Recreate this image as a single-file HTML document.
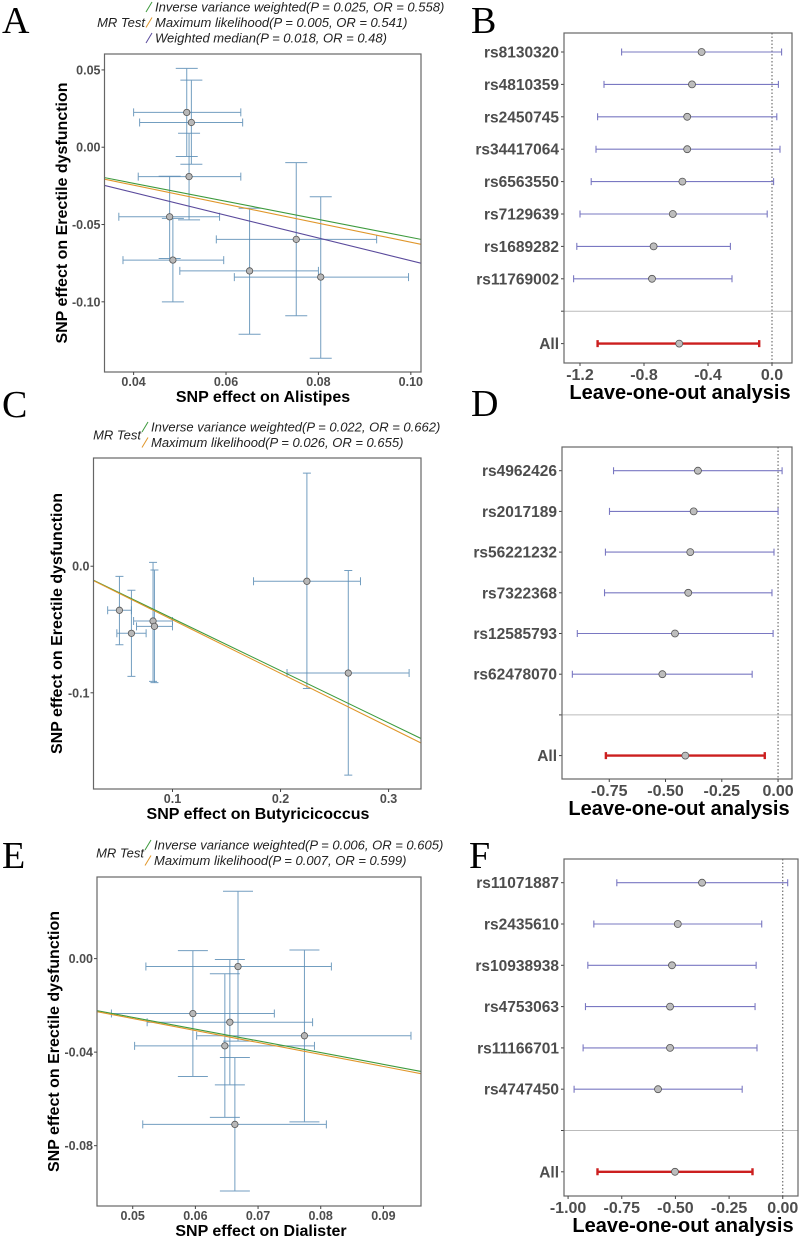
<!DOCTYPE html>
<html><head><meta charset="utf-8"><style>
html,body{margin:0;padding:0;background:#fff;}
svg{display:block;font-family:"Liberation Sans",sans-serif;}
</style></head><body>
<svg id="fig" width="799" height="1240" viewBox="0 0 799 1240" xmlns="http://www.w3.org/2000/svg"></svg>
<script>
// ---------- Panel A data ----------
const aX=[0.0515,0.0525,0.052,0.0478,0.0485,0.0651,0.0752,0.0805];
const aY=[0.0225,0.016,-0.019,-0.045,-0.073,-0.080,-0.0596,-0.084];
const aXlo=[0.040,0.0413,0.041,0.0368,0.0377,0.050,0.0579,0.0618];
const aXhi=[0.0632,0.0636,0.0632,0.0586,0.0595,0.080,0.0926,0.0995];
const aYlo=[-0.006,-0.011,-0.047,-0.072,-0.100,-0.121,-0.109,-0.1365];
const aYhi=[0.051,0.0434,0.009,-0.0188,-0.046,-0.0395,-0.010,-0.032];
const aOR=[0.558,0.541,0.48];
const aLegend=["Inverse variance weighted(P = 0.025, OR = 0.558)","Maximum likelihood(P = 0.005, OR = 0.541)","Weighted median(P = 0.018, OR = 0.48)"];
const aXTicks=[0.04,0.06,0.08,0.10];
const aXTickLabels=["0.04","0.06","0.08","0.10"];
const aYTicks=[0.05,0.00,-0.05,-0.10];
const aYTickLabels=["0.05","0.00","-0.05","-0.10"];
// ---------- Panel B data ----------
const bLabels=["rs8130320","rs4810359","rs2450745","rs34417064","rs6563550","rs7129639","rs1689282","rs11769002"];
const bC=[-0.44,-0.50,-0.53,-0.53,-0.56,-0.62,-0.74,-0.75];
const bLo=[-0.94,-1.05,-1.09,-1.10,-1.13,-1.20,-1.22,-1.24];
const bHi=[0.06,0.04,0.03,0.05,0.01,-0.03,-0.26,-0.25];
const bAll=[-0.58,-1.09,-0.08];
const bTicks=[-1.2,-0.8,-0.4,0.0];
const bTickLabels=["-1.2","-0.8","-0.4","0.0"];
// ---------- Panel C data ----------
const cX=[0.0509,0.062,0.082,0.0833,0.2244,0.2627];
const cY=[-0.0348,-0.053,-0.0433,-0.0475,-0.0119,-0.0844];
const cXlo=[0.040,0.0485,0.064,0.0667,0.175,0.206];
const cXhi=[0.062,0.0756,0.100,0.100,0.274,0.319];
const cYlo=[-0.062,-0.087,-0.091,-0.092,-0.0966,-0.165];
const cYhi=[-0.008,-0.019,0.003,-0.003,0.0736,-0.0034];
const cOR=[0.662,0.655];
const cLegend=["Inverse variance weighted(P = 0.022, OR = 0.662)","Maximum likelihood(P = 0.026, OR = 0.655)"];
const cXTicks=[0.1,0.2,0.3];
const cXTickLabels=["0.1","0.2","0.3"];
const cYTicks=[0.0,-0.1];
const cYTickLabels=["0.0","-0.1"];
// ---------- Panel D data ----------
const dLabels=["rs4962426","rs2017189","rs56221232","rs7322368","rs12585793","rs62478070"];
const dC=[-0.356,-0.375,-0.390,-0.399,-0.458,-0.514];
const dLo=[-0.731,-0.749,-0.767,-0.771,-0.892,-0.914];
const dHi=[0.018,0.0,-0.018,-0.027,-0.022,-0.115];
const dAll=[-0.412,-0.765,-0.059];
const dTicks=[-0.75,-0.50,-0.25,0.00];
const dTickLabels=["-0.75","-0.50","-0.25","0.00"];
// ---------- Panel E data ----------
const eX=[0.0668,0.0596,0.0655,0.0774,0.0647,0.0663];
const eY=[-0.0034,-0.0235,-0.0272,-0.033,-0.0373,-0.0709];
const eXlo=[0.0521,0.0466,0.0523,0.0602,0.0503,0.0516];
const eXhi=[0.0817,0.0726,0.0787,0.0944,0.079,0.0809];
const eYlo=[-0.0353,-0.0504,-0.054,-0.0698,-0.0679,-0.0994];
const eYhi=[0.0288,0.0034,-0.0004,0.0037,-0.0065,-0.0423];
const eOR=[0.605,0.599];
const eLegend=["Inverse variance weighted(P = 0.006, OR = 0.605)","Maximum likelihood(P = 0.007, OR = 0.599)"];
const eXTicks=[0.05,0.06,0.07,0.08,0.09];
const eXTickLabels=["0.05","0.06","0.07","0.08","0.09"];
const eYTicks=[0.00,-0.04,-0.08];
const eYTickLabels=["0.00","-0.04","-0.08"];
// ---------- Panel F data ----------
const fLabels=["rs11071887","rs2435610","rs10938938","rs4753063","rs11166701","rs4747450"];
const fC=[-0.376,-0.489,-0.516,-0.525,-0.525,-0.581];
const fLo=[-0.773,-0.880,-0.908,-0.919,-0.930,-0.972];
const fHi=[0.023,-0.098,-0.124,-0.129,-0.120,-0.189];
const fAll=[-0.502,-0.863,-0.141];
const fTicks=[-1.00,-0.75,-0.50,-0.25,0.00];
const fTickLabels=["-1.00","-0.75","-0.50","-0.25","0.00"];

const NS="http://www.w3.org/2000/svg";
const svg=document.getElementById('fig');
function mk(tag,attrs,parent,text){
  const e=document.createElementNS(NS,tag);
  for(const k in attrs) e.setAttribute(k,attrs[k]);
  if(text!==undefined) e.textContent=text;
  (parent||svg).appendChild(e);
  return e;
}
function lin(d0,d1,r0,r1){return v=>r0+(v-d0)*(r1-r0)/(d1-d0);}
const lineColors=["#3d9a3d","#e0962a","#5a4a9c"];

function panelLetter(t,x,y){
  const e=mk('text',{x:x,y:y,'font-family':'"Liberation Serif",serif','font-size':38,fill:'#000'},svg,t);
  
  
}

function scatter(o){
  const g=mk('g',{});
  
  
  const sx=lin(o.xd[0],o.xd[1],o.b[0],o.b[1]);
  const sy=lin(o.yd[0],o.yd[1],o.b[3],o.b[2]);
  const lg=mk('g',{},g);
  
  
  const nL=o.legend.length;
  const midY=o.ly+(nL-1)*o.lstep/2;
  const mt=mk('text',{x:o.lx-8,y:midY+4.5,'font-size':13,'font-style':'italic','text-anchor':'end',fill:'#222'},lg,'MR Test');
  
  
  o.legend.forEach((t,i)=>{
    const y=o.ly+i*o.lstep;
    const sl=mk('line',{x1:o.lx-7,y1:y+5,x2:o.lx-1,y2:y-5,stroke:lineColors[i],'stroke-width':1},lg);
    
    
    const tx=mk('text',{x:o.lx+2,y:y+4.5,'font-size':13,'font-style':'italic',fill:'#222'},lg,t);
    
    
  });
  const cid='clip'+o.id;
  const cp=mk('clipPath',{id:cid},g);
  mk('rect',{x:o.b[0],y:o.b[2],width:o.b[1]-o.b[0],height:o.b[3]-o.b[2]},cp);
  const pg=mk('g',{'clip-path':'url(#'+cid+')'},g);
  const eb='#5b8db5';
  for(let i=0;i<o.x.length;i++){
    const px=sx(o.x[i]),py=sy(o.y[i]);
    const v=mk('path',{d:`M${px},${sy(o.ylo[i])}V${sy(o.yhi[i])}M${px-o.cw},${sy(o.ylo[i])}h${2*o.cw}M${px-o.cw},${sy(o.yhi[i])}h${2*o.cw}`,stroke:eb,'stroke-width':1,fill:'none','stroke-opacity':0.85},pg);
    
    
    const h=mk('path',{d:`M${sx(o.xlo[i])},${py}H${sx(o.xhi[i])}M${sx(o.xlo[i])},${py-4}v8M${sx(o.xhi[i])},${py-4}v8`,stroke:eb,'stroke-width':1,fill:'none','stroke-opacity':0.85},pg);
    
    
  }
  o.or.forEach((r,i)=>{
    const s=Math.log(r);
    const l=mk('line',{x1:sx(o.xd[0]),y1:sy(s*o.xd[0]),x2:sx(o.xd[1]),y2:sy(s*o.xd[1]),stroke:lineColors[i],'stroke-width':1.1},pg);
    
    
  });
  for(let i=0;i<o.x.length;i++){
    const c=mk('circle',{cx:sx(o.x[i]),cy:sy(o.y[i]),r:3.2,fill:'#b8b8b8',stroke:'#555','stroke-width':0.8},pg);
    
    
  }
  const bx=mk('rect',{x:o.b[0],y:o.b[2],width:o.b[1]-o.b[0],height:o.b[3]-o.b[2],fill:'none',stroke:'#666','stroke-width':1.2},g);
  
  
  o.xt.forEach((v,i)=>{
    const px=sx(v);
    mk('line',{x1:px,y1:o.b[3],x2:px,y2:o.b[3]+3,stroke:'#444'},g);
    const t=mk('text',{x:px,y:o.b[3]+14,'font-size':12.5,'font-weight':'bold','text-anchor':'middle',fill:'#4d4d4d'},g,o.xtl[i]);
    
    
  });
  o.yt.forEach((v,i)=>{
    const py=sy(v);
    mk('line',{x1:o.b[0]-3,y1:py,x2:o.b[0],y2:py,stroke:'#444'},g);
    const t=mk('text',{x:o.b[0]-4,y:py+4.5,'font-size':12.5,'font-weight':'bold','text-anchor':'end',fill:'#4d4d4d'},g,o.ytl[i]);
    
    
  });
  const xt=mk('text',{x:o.xtc,y:o.b[3]+30,'font-size':16,'font-weight':'bold','text-anchor':'middle',fill:'#000'},g,o.xtitle);
  
  
  const cy=(o.b[2]+o.b[3])/2+ o.yoff;
  const yt=mk('text',{x:0,y:0,transform:`translate(${o.ytx},${cy}) rotate(-90)`,'font-size':16,'font-weight':'bold','text-anchor':'middle',fill:'#000'},g,'SNP effect on Erectile dysfunction');
  
  
}

function forest(o){
  const g=mk('g',{});
  
  
  const sx=lin(o.xd[0],o.xd[1],o.b[0],o.b[1]);
  const n=o.labels.length;
  const rowY=i=>o.r0+i*o.step;
  const sepY=rowY(n);
  const allY=rowY(n+1);
  const z=mk('line',{x1:sx(0),y1:o.b[2],x2:sx(0),y2:o.b[3],stroke:'#555','stroke-width':1,'stroke-dasharray':'1.5,2'},g);
  
  
  const sp=mk('line',{x1:o.b[0],y1:sepY,x2:o.b[1],y2:sepY,stroke:'#bbb','stroke-width':1},g);
  
  
  mk('line',{x1:o.b[0]-3,y1:sepY,x2:o.b[0],y2:sepY,stroke:'#444'},g);
  const bar=(c,lo,hi,y,col,w,lab,name)=>{
    const p=mk('path',{d:`M${sx(lo)},${y}H${sx(hi)}M${sx(lo)},${y-3.5}v7M${sx(hi)},${y-3.5}v7`,stroke:col,'stroke-width':w,fill:'none'},g);
    
    
    const ci=mk('circle',{cx:sx(c),cy:y,r:3.5,fill:'#bdbdbd',stroke:'#555','stroke-width':0.8},g);
    
    
    mk('line',{x1:o.b[0]-3,y1:y,x2:o.b[0],y2:y,stroke:'#444'},g);
    const t=mk('text',{x:o.b[0]-5,y:y+5.5,'font-size':15.5,'font-weight':'bold','text-anchor':'end',fill:'#4d4d4d'},g,lab);
    
    
  };
  for(let i=0;i<n;i++) bar(o.c[i],o.lo[i],o.hi[i],rowY(i),'#7a78c2',1.1,o.labels[i],'snp');
  bar(o.all[0],o.all[1],o.all[2],allY,'#cc1f1f',2.4,'All','all');
  const bx=mk('rect',{x:o.b[0],y:o.b[2],width:o.b[1]-o.b[0],height:o.b[3]-o.b[2],fill:'none',stroke:'#666','stroke-width':1.2},g);
  
  
  o.xt.forEach((v,i)=>{
    const px=sx(v);
    mk('line',{x1:px,y1:o.b[3],x2:px,y2:o.b[3]+3,stroke:'#444'},g);
    const t=mk('text',{x:px,y:o.b[3]+17,'font-size':16,'font-weight':'bold','text-anchor':'middle',fill:'#4d4d4d'},g,o.xtl[i]);
    
    
  });
  const xt=mk('text',{x:(o.b[0]+o.b[1])/2+2,y:o.b[3]+36,'font-size':20,'font-weight':'bold','text-anchor':'middle',fill:'#000'},g,'Leave-one-out analysis');
  
  
}

panelLetter('A',2,33);
panelLetter('B',471,33);
panelLetter('C',2,417);
panelLetter('D',471,416);
panelLetter('E',2,868);
panelLetter('F',469,868);

scatter({id:'a',b:[104.5,421,54,372],xd:[0.0337,0.1022],yd:[-0.1454,0.0603],x:aX,y:aY,xlo:aXlo,xhi:aXhi,ylo:aYlo,yhi:aYhi,or:aOR,legend:aLegend,lx:153,ly:7,lstep:15.5,cw:11,xt:aXTicks,xtl:aXTickLabels,yt:aYTicks,ytl:aYTickLabels,xtitle:'SNP effect on Alistipes',xtc:263,ytx:67,yoff:0});
scatter({id:'c',b:[93.5,421,458,789],xd:[0.0269,0.330],yd:[-0.176,0.0855],x:cX,y:cY,xlo:cXlo,xhi:cXhi,ylo:cYlo,yhi:cYhi,or:cOR,legend:cLegend,lx:149,ly:427,lstep:15.5,cw:4,xt:cXTicks,xtl:cXTickLabels,yt:cYTicks,ytl:cYTickLabels,xtitle:'SNP effect on Butyricicoccus',xtc:258,ytx:62,yoff:0});
scatter({id:'e',b:[97,421,877,1206],xd:[0.0443,0.096],yd:[-0.1058,0.0349],x:eX,y:eY,xlo:eXlo,xhi:eXhi,ylo:eYlo,yhi:eYhi,or:eOR,legend:eLegend,lx:152,ly:845,lstep:15.5,cw:15,xt:eXTicks,xtl:eXTickLabels,yt:eYTicks,ytl:eYTickLabels,xtitle:'SNP effect on Dialister',xtc:261,ytx:59,yoff:0});

forest({id:'b',b:[564,792,33,363],xd:[-1.30,0.125],labels:bLabels,c:bC,lo:bLo,hi:bHi,all:bAll,r0:52,step:32.4,xt:bTicks,xtl:bTickLabels});
forest({id:'d',b:[562,792,447,779],xd:[-0.960,0.062],labels:dLabels,c:dC,lo:dLo,hi:dHi,all:dAll,r0:470.7,step:40.7,xt:dTicks,xtl:dTickLabels});
forest({id:'f',b:[564,798,859,1196],xd:[-1.019,0.071],labels:fLabels,c:fC,lo:fLo,hi:fHi,all:fAll,r0:882.7,step:41.3,xt:fTicks,xtl:fTickLabels});
</script>
</body></html>
